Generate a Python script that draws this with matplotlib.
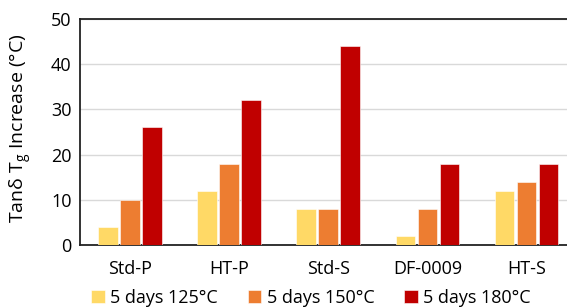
import matplotlib
matplotlib.use('Agg')
import matplotlib.pyplot as plt
import numpy as np

categories = ['Std-P', 'HT-P', 'Std-S', 'DF-0009', 'HT-S']
series_names = ['5 days 125°C', '5 days 150°C', '5 days 180°C']
days125 = [4, 12, 8, 2, 12]
days150 = [10, 18, 8, 8, 14]
days180 = [26, 32, 44, 18, 18]
colors = ['#FFD966', '#ED7D31', '#C00000']

plt.rcParams['font.family'] = ['Open Sans', 'DejaVu Sans']

fig = plt.figure(figsize=(5.67, 3.08), dpi=100)
# axes spans past the right edge, like the original crop
ax = fig.add_axes([80 / 567, 1 - 245 / 308, 496 / 567, 226 / 308])

x = np.arange(len(categories))
w = 0.197
step = 0.222
for i, (vals, name) in enumerate(zip([days125, days150, days180], series_names)):
    ax.bar(x + (i - 1) * step, vals, width=w, color=colors[i], label=name,
           edgecolor='white', linewidth=0.4, zorder=3)

ax.set_xlim(-0.505, 4.5)
ax.set_ylim(0, 50)
ax.set_yticks(range(0, 51, 10))
ax.set_xticks(x)
ax.set_xticklabels(categories)
ax.tick_params(axis='both', length=0, labelsize=13, colors='black')
ax.tick_params(axis='x', pad=11)
ax.tick_params(axis='y', pad=6)
ax.yaxis.grid(True, color='#D9D9D9', linewidth=1, zorder=0)
for s in ['left', 'bottom', 'top']:
    ax.spines[s].set_color('#222222')
    ax.spines[s].set_linewidth(1.3)
ax.spines['right'].set_visible(False)

ax.set_ylabel(r'Tan$\mathregular{\delta}$ T$_\mathregular{g}$ Increase (°C)', fontsize=14, labelpad=4)
ax.yaxis.set_label_coords(-0.093, 0.515)

leg = fig.legend(loc='lower left', bbox_to_anchor=(84 / 567, -0.02), ncol=3, frameon=False,
                 fontsize=13, handlelength=0.75, handleheight=0.75, handletextpad=0.3,
                 columnspacing=1.65, borderaxespad=0)

fig.savefig('out.png', dpi=100)
